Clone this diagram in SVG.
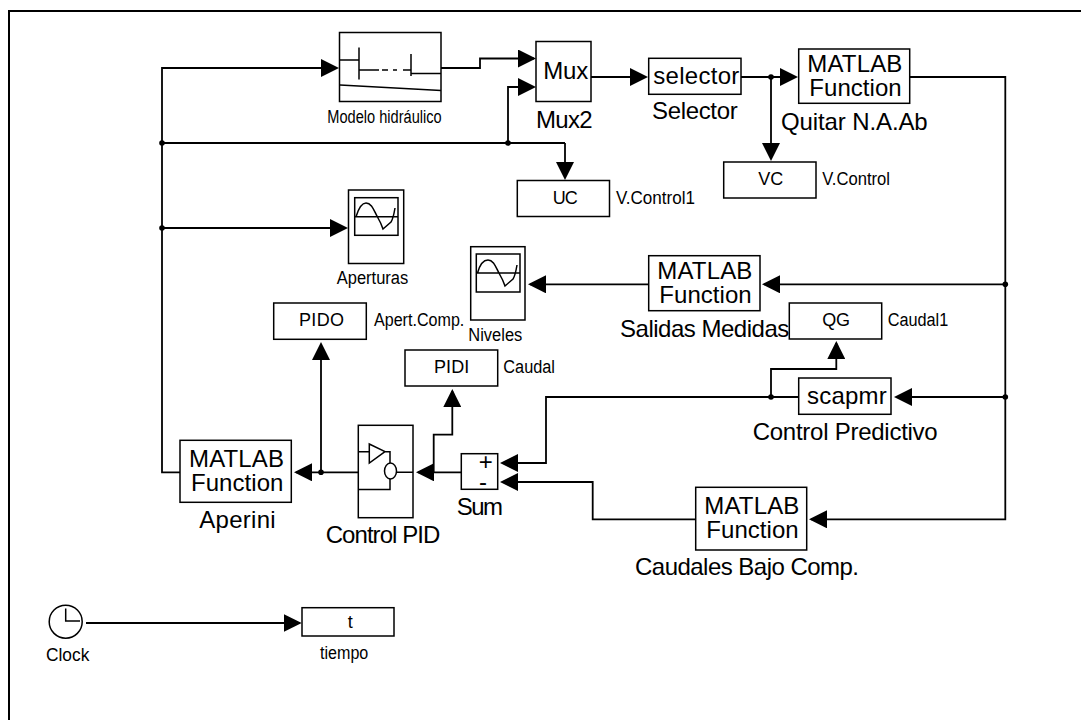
<svg xmlns="http://www.w3.org/2000/svg" width="1081" height="720" viewBox="0 0 1081 720">
<style>
text{font-family:"Liberation Sans",Arial,sans-serif;fill:#000}
.l{font-size:24px}.s{font-size:18px}
.b{fill:#fff;stroke:#000;stroke-width:1.5}
.i{fill:none;stroke:#000;stroke-width:1.5}
.w{fill:none;stroke:#000;stroke-width:1.8}
.w.a{marker-end:url(#arrow)}
.d{fill:#000}
</style>
<defs>
<marker id="arrow" markerUnits="userSpaceOnUse" markerWidth="18" markerHeight="18" refX="16" refY="9" orient="auto"><path d="M0,0 L18,9 L0,18 Z" fill="#000"/></marker>
</defs>
<rect width="1081" height="720" fill="#fff"/>
<path id="frame" d="M9,720V11H1081" fill="none" stroke="#000" stroke-width="2"/>
<g id="connectors">
<path class="w a" d="M180,472.3H162V68H337"/>
<path class="w" d="M162,143H565"/>
<path class="w a" d="M565,143V178"/>
<path class="w a" d="M508,143V87H534"/>
<path class="w a" d="M162,228H346"/>
<path class="w a" d="M441,68H480V58.5H534"/>
<path class="w a" d="M591,77H646"/>
<path class="w a" d="M741,77H796"/>
<path class="w a" d="M771,77V159"/>
<path class="w a" d="M910,77H1005.3V519.3H811"/>
<path class="w a" d="M1005.3,284.3H764"/>
<path class="w a" d="M648,284.3H530"/>
<path class="w a" d="M1005.3,397H896"/>
<path class="w a" d="M798,397H546V463H502"/>
<path class="w a" d="M771,397V369H836.3V343"/>
<path class="w a" d="M695,519.3H592.7V482H502"/>
<path class="w a" d="M461,472.3H418"/>
<path class="w a" d="M433.7,472.3V434.7H452.3V391"/>
<path class="w a" d="M358,472.3H296"/>
<path class="w a" d="M321,472.3V344"/>
<path class="w a" d="M86,623H299.7"/>
<circle class="d" cx="162" cy="143" r="2.8"/>
<circle class="d" cx="162" cy="228" r="2.8"/>
<circle class="d" cx="508" cy="143" r="2.8"/>
<circle class="d" cx="771" cy="77" r="2.8"/>
<circle class="d" cx="1005.3" cy="284.3" r="2.8"/>
<circle class="d" cx="1005.3" cy="397" r="2.8"/>
<circle class="d" cx="771" cy="397" r="2.8"/>
<circle class="d" cx="321" cy="472.3" r="2.8"/>
</g>
<g id="modelo">
<rect class="b" x="339.5" y="32.5" width="101.5" height="69"/>
<path class="i" d="M340,60H359M359,47.5V79.5M359,70H379M382,70H388M393,70H397M403,70H411M411,54V76M411,73.5H441M340,85L441,90.5"/>
<text class="s" x="327.3" y="123.3" textLength="114.4" lengthAdjust="spacingAndGlyphs">Modelo hidráulico</text>
</g>
<g id="mux2">
<rect class="b" x="536" y="41.5" width="55" height="60"/>
<text class="l" x="543.3" y="78.7" textLength="45">Mux</text>
<text class="l" x="536" y="127.7" textLength="56.7">Mux2</text>
</g>
<g id="selector">
<rect class="b" x="648.7" y="58.3" width="92.3" height="36"/>
<text class="l" x="653.3" y="84" textLength="86">selector</text>
<text class="l" x="652" y="119.3" textLength="85.7">Selector</text>
</g>
<g id="quitar">
<rect class="b" x="798.7" y="49" width="111" height="54.3"/>
<text class="l" x="807.3" y="72.3" textLength="95">MATLAB</text>
<text class="l" x="809.3" y="96" textLength="92.4">Function</text>
<text class="l" x="781" y="130" textLength="146.7">Quitar N.A.Ab</text>
</g>
<g id="uc">
<rect class="b" x="517.3" y="180.5" width="92.2" height="36"/>
<text class="s" x="552.7" y="204" textLength="25">UC</text>
<text class="s" x="616" y="204" textLength="79" lengthAdjust="spacingAndGlyphs">V.Control1</text>
</g>
<g id="vc">
<rect class="b" x="723.7" y="162" width="92.3" height="36"/>
<text class="s" x="758.3" y="185" textLength="25">VC</text>
<text class="s" x="822.3" y="185" textLength="67.7" lengthAdjust="spacingAndGlyphs">V.Control</text>
</g>
<g id="aperturas">
<rect class="b" x="348.5" y="190" width="55.2" height="73.5"/>
<rect class="b" x="354.7" y="197.7" width="43.3" height="37.6"/>
<path class="i" d="M354.7,216.7H398M356,216.7C359,207 362,203 366,203C372,203 374,211 378,218C381,223 383,229 383,229L391,222C393,219 394,214 395,208"/>
<text class="s" x="336.7" y="284" textLength="71.6" lengthAdjust="spacingAndGlyphs">Aperturas</text>
</g>
<g id="niveles">
<rect class="b" x="470.7" y="246.7" width="54.3" height="73.3"/>
<rect class="b" x="476.3" y="254" width="43.7" height="38"/>
<path class="i" d="M476.3,273H520M477.5,273C480,264 484,260 488,260C494,260 496,268 500,275C503,280 505,286 505,286L513,279C515,276 516,271 517,265"/>
<text class="s" x="468.3" y="341" textLength="54" lengthAdjust="spacingAndGlyphs">Niveles</text>
</g>
<g id="salidas">
<rect class="b" x="648.7" y="255.7" width="111.3" height="55"/>
<text class="l" x="657.3" y="279.3" textLength="95">MATLAB</text>
<text class="l" x="659.3" y="302.7" textLength="92.4">Function</text>
<text class="l" x="620" y="336.7" textLength="169.3">Salidas Medidas</text>
</g>
<g id="qg">
<rect class="b" x="789.3" y="303" width="92.4" height="36"/>
<text class="s" x="822.3" y="325.7" textLength="27.7">QG</text>
<text class="s" x="887.7" y="325.7" textLength="60.6" lengthAdjust="spacingAndGlyphs">Caudal1</text>
</g>
<g id="scapmr">
<rect class="b" x="798.7" y="378" width="92.3" height="36.3"/>
<text class="l" x="807" y="404" textLength="79.7">scapmr</text>
<text class="l" x="752.7" y="440" textLength="185">Control Predictivo</text>
</g>
<g id="caudales">
<rect class="b" x="695.7" y="487.3" width="111" height="62.7"/>
<text class="l" x="704.3" y="514.3" textLength="95">MATLAB</text>
<text class="l" x="706.3" y="537.7" textLength="92.4">Function</text>
<text class="l" x="635" y="575" textLength="224">Caudales Bajo Comp.</text>
</g>
<g id="sum">
<rect class="b" x="461.3" y="453.7" width="36.4" height="35.6"/>
<text class="l" x="478.7" y="470">+</text>
<text class="l" x="479" y="490">-</text>
<text class="l" x="456.7" y="515" textLength="46.3">Sum</text>
</g>
<g id="pidi">
<rect class="b" x="405" y="350" width="92.7" height="36"/>
<text class="s" x="434" y="373" textLength="35.3">PIDI</text>
<text class="s" x="503.3" y="373" textLength="51.7" lengthAdjust="spacingAndGlyphs">Caudal</text>
</g>
<g id="pido">
<rect class="b" x="273.7" y="303" width="92.6" height="36.3"/>
<text class="s" x="299" y="326" textLength="45">PIDO</text>
<text class="s" x="374" y="326" textLength="90.3" lengthAdjust="spacingAndGlyphs">Apert.Comp.</text>
</g>
<g id="control-pid">
<rect class="b" x="358.3" y="425.3" width="54.7" height="92.4"/>
<path class="i" d="M358.3,451.7H369.3M369.3,444V463L385,451.7ZM385,451.7H390V463M397,472.3H413M390,479V489.5H358.3"/>
<ellipse class="i" cx="390.5" cy="471" rx="6" ry="8"/>
<text class="l" x="325.7" y="542.7" textLength="114.6">Control PID</text>
</g>
<g id="aperini">
<rect class="b" x="180" y="440.3" width="111.3" height="62"/>
<text class="l" x="189" y="467.3" textLength="95">MATLAB</text>
<text class="l" x="191" y="490.7" textLength="92.4">Function</text>
<text class="l" x="199.3" y="527.7" textLength="76.4">Aperini</text>
</g>
<g id="clock">
<circle class="b" cx="65.7" cy="621.7" r="16.5"/>
<path class="i" d="M65.7,608.5V621H80"/>
<text class="s" x="46" y="660.7" textLength="43.3" lengthAdjust="spacingAndGlyphs">Clock</text>
</g>
<g id="tiempo">
<rect class="b" x="302" y="607.7" width="92" height="28.3"/>
<text class="s" x="347.7" y="628.3">t</text>
<text class="s" x="320" y="658.5" textLength="48.3" lengthAdjust="spacingAndGlyphs">tiempo</text>
</g>
</svg>
